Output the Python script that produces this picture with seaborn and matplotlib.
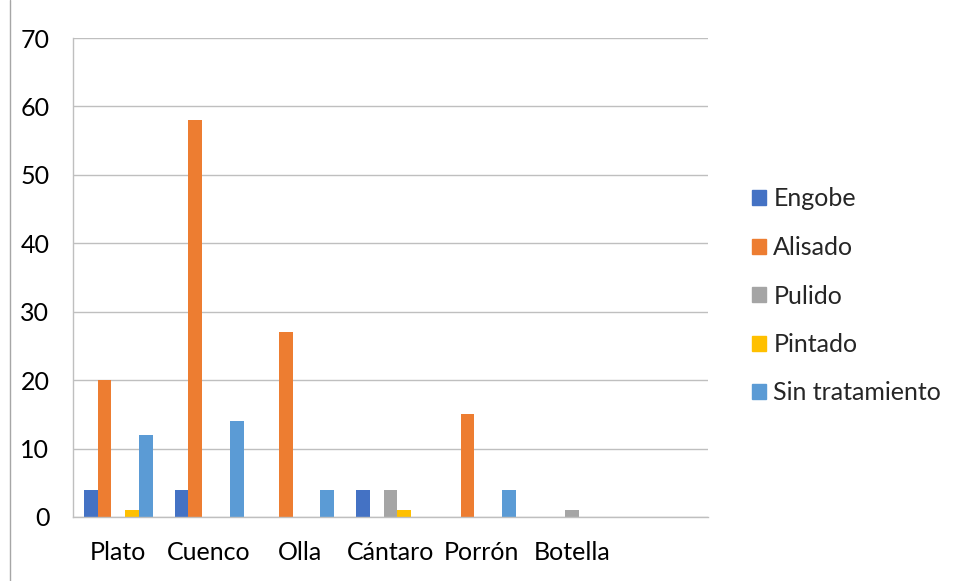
import matplotlib
matplotlib.use("Agg")
import matplotlib.pyplot as plt
from matplotlib.lines import Line2D
from matplotlib.patches import Patch
import seaborn as sns
import pandas as pd

categories = ["Plato", "Cuenco", "Olla", "Cántaro", "Porrón", "Botella", " "]
series = ["Engobe", "Alisado", "Pulido", "Pintado", "Sin tratamiento"]
engobe = [4, 4, 0, 4, 0, 0]
alisado = [20, 58, 27, 0, 15, 0]
pulido = [0, 0, 0, 4, 0, 1]
pintado = [1, 0, 0, 1, 0, 0]
sin_tratamiento = [12, 14, 4, 0, 4, 0]
colors = ["#4472C4", "#ED7D31", "#A5A5A5", "#FFC000", "#5B9BD5"]

rows = []
for name, vals in zip(series, [engobe, alisado, pulido, pintado, sin_tratamiento]):
    for cat, v in zip(categories, vals):
        rows.append({"tipo": cat, "tratamiento": name, "n": v})
df = pd.DataFrame(rows)

sns.set_style("white")
plt.rcParams["font.family"] = ["Lato", "DejaVu Sans"]

fig = plt.figure(figsize=(9.57, 5.81), dpi=100)
ax = fig.add_axes([73 / 957, 64 / 581, 635 / 957, 479 / 581])

sns.barplot(data=df, x="tipo", y="n", hue="tratamiento", order=categories,
            hue_order=series, palette=colors, width=0.76, saturation=1,
            errorbar=None, ax=ax, legend=False, linewidth=0)

grid_c = "#BFBFBF"
ax.set_ylim(0, 70)
ax.set_xlim(-0.5, len(categories) - 0.5)
ax.set_yticks(range(0, 71, 10))
ax.yaxis.grid(True, color=grid_c, linewidth=1)
ax.set_axisbelow(True)
for s in ["top", "right"]:
    ax.spines[s].set_visible(False)
for s in ["left", "bottom"]:
    ax.spines[s].set_color(grid_c)
    ax.spines[s].set_linewidth(1)

ax.set_xticks(range(len(categories)))
ax.set_xticklabels(categories)
ax.set_xticks([i - 0.5 for i in range(len(categories) + 1)], minor=True)
ax.tick_params(axis="x", which="major", length=0, pad=17, labelsize=18, labelcolor="#000000")
ax.tick_params(axis="x", which="minor", length=8, color=grid_c, width=1, direction="out")
ax.tick_params(axis="y", length=8, color=grid_c, width=1, direction="out", pad=9,
               labelsize=18, labelcolor="#000000")
ax.set_xlabel("")
ax.set_ylabel("")

handles = [Patch(facecolor=c, edgecolor=c) for c in colors]
fig.legend(handles, series, loc="center left", bbox_to_anchor=(742 / 957, 1 - 296 / 581),
           frameon=False, fontsize=18, handlelength=0.55, handleheight=0.55,
           handletextpad=0.3, labelspacing=1.02, borderaxespad=0)

fig.add_artist(Line2D([10 / 957, 10 / 957], [0, 1], transform=fig.transFigure,
                      color="#A6A6A6", linewidth=1))

fig.savefig("out.png", dpi=100)
